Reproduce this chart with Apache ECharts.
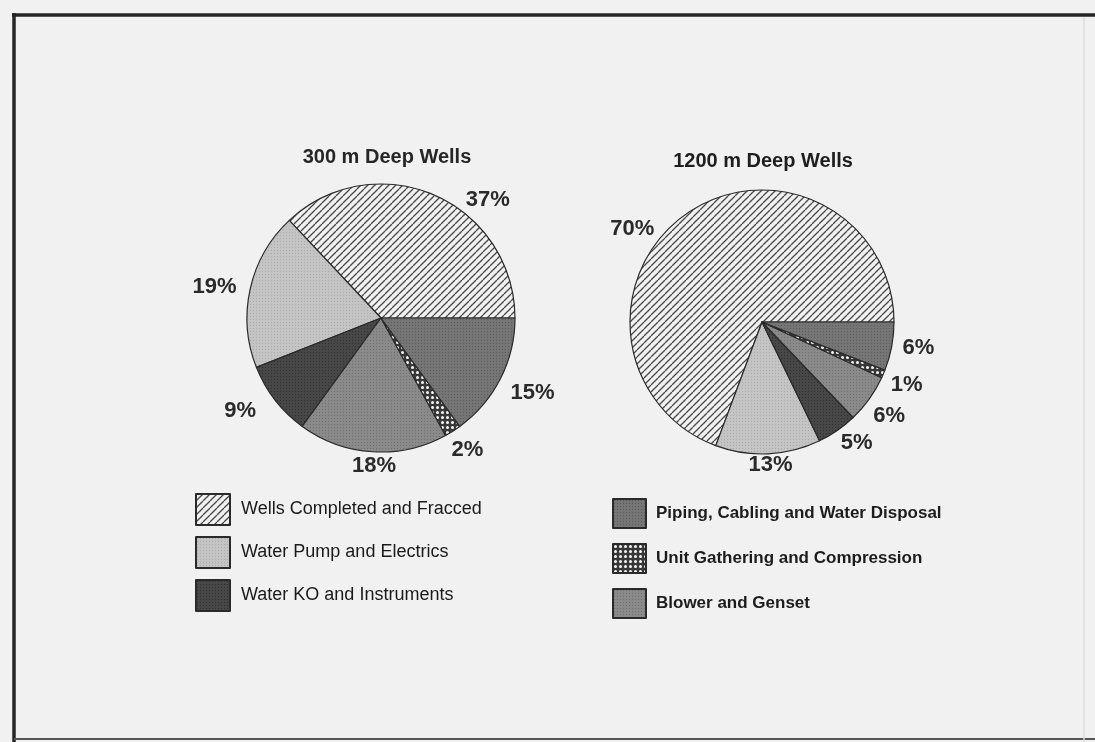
<!DOCTYPE html>
<html>
<head>
<meta charset="utf-8">
<script src="https://cdn.jsdelivr.net/npm/echarts@6/dist/echarts.min.js"></script>
<style>
  html, body { margin: 0; padding: 0; background: #f1f1f1; }
  #chart { width: 1095px; height: 742px; }
</style>
</head>
<body>
<div id="chart"></div>
<script>
// Cost categories shared by both pies (pie order, counter-clockwise from 3 o'clock)
const categories = [
  'Wells Completed and Fracced',
  'Water Pump and Electrics',
  'Water KO and Instruments',
  'Blower and Genset',
  'Unit Gathering and Compression',
  'Piping, Cabling and Water Disposal'
];
// Percent of capital cost per category
const shallowShares = [37, 19, 9, 18, 2, 15];
const deepShares = [70, 13, 5, 6, 1, 6];
const pieTitles = ['300 m Deep Wells', '1200 m Deep Wells'];
// Legend columns
const legendLeftItems = [categories[0], categories[1], categories[2]];
const legendRightItems = [categories[5], categories[4], categories[3]];

const FONT = '"Liberation Sans", Arial, Helvetica, sans-serif';
const PAPER = '#f1f1f1';

// ---- fill patterns ----
function tile(size, draw) {
  const c = document.createElement('canvas');
  c.width = size; c.height = size;
  draw(c.getContext('2d'), size);
  return { image: c, repeat: 'repeat' };
}
function hatch() {
  return tile(7, (g, s) => {
    g.fillStyle = PAPER; g.fillRect(0, 0, s, s);
    g.strokeStyle = '#4a4a4a'; g.lineWidth = 1.3;
    for (const k of [-s, 0, s]) {
      g.beginPath(); g.moveTo(k, s); g.lineTo(k + s, 0); g.stroke();
    }
  });
}
function screen(base, dot) {
  return tile(3, (g, s) => {
    g.fillStyle = base; g.fillRect(0, 0, s, s);
    g.fillStyle = dot; g.fillRect(1, 1, 1, 1);
  });
}
function dots() {
  return tile(5, (g, s) => {
    g.fillStyle = '#383838'; g.fillRect(0, 0, s, s);
    g.fillStyle = '#f4f4f4';
    g.beginPath(); g.arc(2.5, 2.5, 1.5, 0, Math.PI * 2); g.fill();
  });
}
const fills = [
  hatch(),
  screen('#c4c4c4', '#ababab'),
  screen('#474747', '#313131'),
  screen('#8a8a8a', '#707070'),
  dots(),
  screen('#757575', '#5c5c5c')
];

// small nudges for labels that sit off their slice's mid-angle
const shallowNudge = { 0: [23, 13], 2: [-7, 5], 3: [29, 5], 4: [-11, 11], 5: [-3, 10] };
const deepNudge = { 0: [-24, 20], 1: [-25, 5], 2: [-5, 8], 3: [-6, 14], 4: [-3, 9] };

function pieSeries(values, center, radius, lineLen, nudge) {
  return {
    type: 'pie',
    center: center,
    radius: radius,
    startAngle: 0,
    clockwise: false,
    avoidLabelOverlap: false,
    silent: true,
    animation: false,
    itemStyle: { borderColor: '#2a2a2a', borderWidth: 1.2 },
    label: {
      show: true,
      position: 'outside',
      formatter: '{c}%',
      fontFamily: FONT,
      fontSize: 22,
      fontWeight: 'bold',
      color: '#2a2a2a'
    },
    labelLine: { show: false, length: lineLen, length2: 0 },
    labelLayout: function (p) {
      const n = nudge[p.dataIndex];
      return n ? { dx: n[0], dy: n[1] } : {};
    },
    emphasis: { disabled: true },
    data: categories.map((name, i) => ({
      name: name,
      value: values[i],
      itemStyle: { color: fills[i] }
    }))
  };
}

const chart = echarts.init(document.getElementById('chart'), null, { renderer: 'canvas' });
chart.setOption({
  backgroundColor: PAPER,
  animation: false,
  title: [
    {
      text: pieTitles[0], left: 387, top: 147, textAlign: 'center', padding: 0,
      textStyle: { fontFamily: FONT, fontSize: 20, fontWeight: 'bold', color: '#262626' }
    },
    {
      text: pieTitles[1], left: 763, top: 151, textAlign: 'center', padding: 0,
      textStyle: { fontFamily: FONT, fontSize: 20, fontWeight: 'bold', color: '#1e1e1e' }
    }
  ],
  legend: [
    {
      data: legendLeftItems,
      orient: 'vertical',
      left: 195, top: 493,
      padding: 0,
      itemWidth: 34, itemHeight: 31, itemGap: 10,
      icon: 'rect',
      selectedMode: false,
      textStyle: { fontFamily: FONT, fontSize: 18, color: '#1a1a1a', padding: [0, 0, 0, 6] }
    },
    {
      data: legendRightItems,
      orient: 'vertical',
      left: 612, top: 498,
      padding: 0,
      itemWidth: 33, itemHeight: 29, itemGap: 14,
      icon: 'rect',
      selectedMode: false,
      textStyle: { fontFamily: FONT, fontSize: 17, fontWeight: 'bold', color: '#1c1c1c', padding: [0, 0, 0, 5] }
    }
  ],
  series: [
    pieSeries(shallowShares, [381, 318], 134, 9, shallowNudge),
    pieSeries(deepShares, [762, 322], 132, 6, deepNudge)
  ],
  graphic: [
    // page frame
    { type: 'line', shape: { x1: 12, y1: 15, x2: 1095, y2: 15 }, style: { stroke: '#262626', lineWidth: 3.5 }, silent: true },
    { type: 'line', shape: { x1: 14, y1: 13, x2: 14, y2: 742 }, style: { stroke: '#262626', lineWidth: 3.5 }, silent: true },
    { type: 'line', shape: { x1: 14, y1: 739, x2: 1095, y2: 739 }, style: { stroke: '#555', lineWidth: 2 }, silent: true },
    { type: 'line', shape: { x1: 1084, y1: 17, x2: 1084, y2: 742 }, style: { stroke: '#dcdcdc', lineWidth: 1.5 }, silent: true }
  ]
});
</script>
</body>
</html>
